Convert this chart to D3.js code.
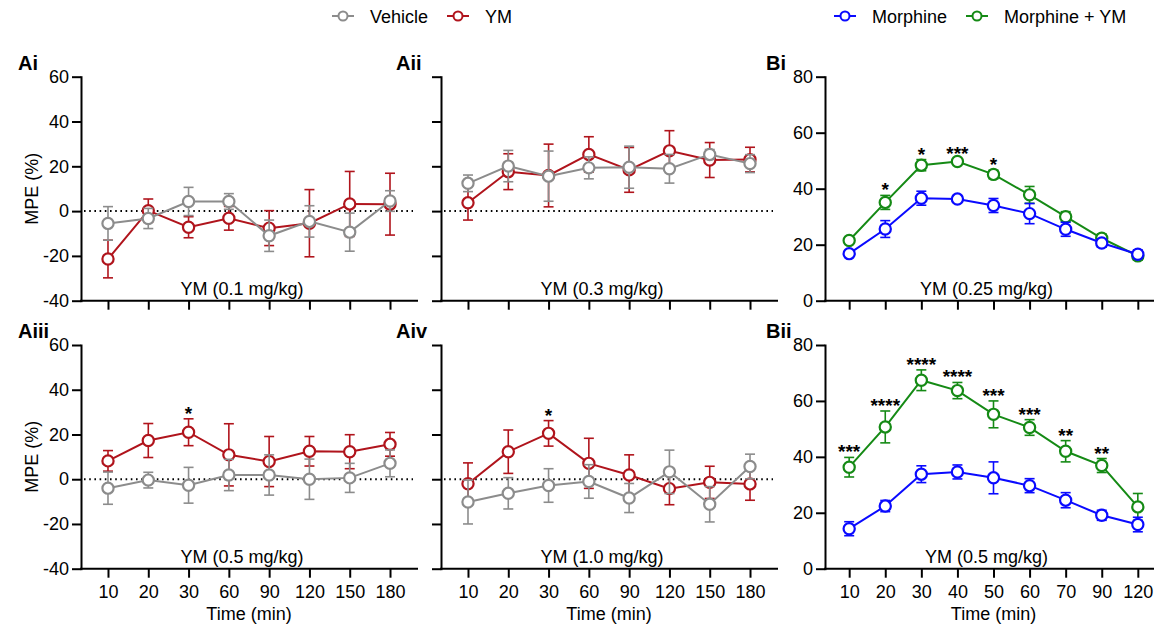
<!DOCTYPE html>
<html>
<head>
<meta charset="utf-8">
<script src="https://cdn.jsdelivr.net/npm/d3@7"></script>
<style>
  body { margin: 0; background: #fff; }
  svg { display: block; }
  text { font-family: "Liberation Sans", Arial, sans-serif; fill: #000; }
</style>
</head>
<body>
<svg id="chart" width="1154" height="628"></svg>
<script>
// time points (min)
const timeA = ["10", "20", "30", "60", "90", "120", "150", "180"];
const timeB = ["10", "20", "30", "40", "50", "60", "70", "90", "120"];

// Ai - YM 0.1 mg/kg
const aiVehicle = [-5.5, -3.3, 4.3, 4.3, -11.0, -4.6, -9.4, 4.5];
const aiVehicleSem = [7.5, 4.5, 6.3, 3.5, 7.0, 7.0, 8.5, 4.6];
const aiYM = [-21.4, 0.2, -7.2, -3.2, -7.6, -5.4, 3.2, 3.1];
const aiYMSem = [8.4, 5.2, 4.7, 5.3, 7.8, 15.0, 14.5, 13.8];

// Aii - YM 0.3 mg/kg
const aiiVehicle = [12.4, 20.1, 15.6, 19.3, 19.6, 18.9, 25.3, 21.2];
const aiiVehicleSem = [3.7, 7.0, 11.2, 4.9, 9.4, 6.4, 2.2, 4.0];
const aiiYM = [3.7, 17.6, 15.9, 25.3, 18.4, 26.9, 22.8, 23.0];
const aiiYMSem = [7.7, 8.0, 14.0, 7.9, 10.0, 9.0, 7.8, 5.5];

// Aiii - YM 0.5 mg/kg
const aiiiVehicle = [-4.0, -0.4, -2.7, 1.9, 1.9, 0.0, 0.6, 7.1];
const aiiiVehicleSem = [7.2, 3.5, 8.0, 7.0, 9.0, 9.0, 6.5, 6.0];
const aiiiYM = [8.2, 17.3, 21.0, 10.9, 7.9, 12.5, 12.3, 15.6];
const aiiiYMSem = [4.6, 7.6, 6.0, 13.9, 11.2, 6.6, 7.6, 5.3];
const aiiiStars = ["", "", "*", "", "", "", "", ""];

// Aiv - YM 1.0 mg/kg
const aivVehicle = [-10.2, -6.3, -2.8, -1.0, -8.4, 3.3, -11.2, 5.7];
const aivVehicleSem = [9.8, 7.0, 7.5, 7.5, 6.5, 9.7, 7.9, 5.5];
const aivYM = [-2.0, 12.3, 20.5, 7.1, 1.9, -4.2, -1.4, -2.1];
const aivYMSem = [9.3, 9.7, 5.7, 11.2, 9.0, 7.2, 7.2, 7.3];
const aivStars = ["", "", "*", "", "", "", "", ""];

// Bi - morphine +/- YM 0.25 mg/kg
const biMorphine = [16.8, 25.6, 36.6, 36.3, 34.0, 31.1, 25.5, 20.6, 16.6];
const biMorphineSem = [1.0, 3.0, 2.5, 1.0, 2.5, 3.6, 2.5, 1.5, 1.5];
const biMorphineYM = [21.5, 35.1, 48.4, 49.7, 45.1, 37.8, 30.0, 22.3, 16.0];
const biMorphineYMSem = [1.0, 2.5, 2.0, 1.0, 1.5, 3.0, 1.8, 1.5, 1.5];
const biStars = ["", "*", "*", "***", "*", "", "", "", ""];

// Bii - morphine +/- YM 0.5 mg/kg
const biiMorphine = [14.3, 22.4, 33.8, 34.6, 32.5, 29.7, 24.5, 19.1, 15.8];
const biiMorphineSem = [2.5, 2.0, 3.0, 2.5, 5.7, 2.5, 2.7, 1.8, 2.6];
const biiMorphineYM = [36.3, 50.7, 67.4, 63.7, 55.2, 50.5, 42.0, 36.9, 22.1];
const biiMorphineYMSem = [3.5, 5.7, 3.7, 2.9, 4.8, 2.8, 3.8, 2.5, 4.8];
const biiStars = ["***", "****", "****", "****", "***", "***", "**", "**", ""];

const yTicksA = [-40, -20, 0, 20, 40, 60];
const yTicksB = [0, 20, 40, 60, 80];

const GRAY = "#8c8c8c", RED = "#b0141c", BLUE = "#0a0aff", GREEN = "#158a15";

const svg = d3.select("#chart");

function styleAxis(sel) {
  sel.selectAll("path, line").attr("stroke", "#000").attr("stroke-width", 2);
  sel.select(".domain").attr("stroke-linecap", "square");
  sel.selectAll("text").style("font-size", "18px").attr("fill", "#000");
}

function drawPanel(p) {
  var g = svg.append("g").classed("panel", true);
  var x = d3.scalePoint().domain(p.times).range([p.left, p.right]).padding(0.67);
  var y = d3.scaleLinear().domain(p.yDomain).range([p.bottom, p.top]);

  // dotted zero line
  if (p.yDomain[0] < 0) {
    g.append("line")
      .attr("x1", p.left + 3).attr("x2", p.right - 4)
      .attr("y1", y(0)).attr("y2", y(0))
      .attr("stroke", "#000").attr("stroke-width", 2)
      .attr("stroke-dasharray", "1.6,3.6");
  }

  var yAxis = d3.axisLeft(y).tickValues(p.yTicks).tickSize(9).tickSizeOuter(0).tickPadding(3)
    .tickFormat(function (d) { return String(d); });
  if (!p.yLabels) yAxis.tickFormat("");
  g.append("g").attr("transform", "translate(" + p.left + ",0)").call(yAxis).call(styleAxis);

  var xAxis = d3.axisBottom(x).tickSize(9).tickSizeOuter(0).tickPadding(8);
  if (!p.xLabels) xAxis.tickFormat("");
  var xg = g.append("g").attr("transform", "translate(0," + p.bottom + ")").call(xAxis).call(styleAxis);
  // extend domain to the y axis
  xg.select(".domain").attr("d", "M" + p.left + ",0H" + p.right);

  // series
  p.series.forEach(function (s) {
    var pts = p.times.map(function (t, i) { return { t: t, v: s.values[i], e: s.sem[i] }; });
    var sg = g.append("g").classed("series", true);
    sg.append("path")
      .datum(pts)
      .attr("fill", "none").attr("stroke", s.color).attr("stroke-width", 2)
      .attr("d", d3.line().x(function (d) { return x(d.t); }).y(function (d) { return y(d.v); }));
    var eb = sg.selectAll(".err").data(pts).enter().append("g").classed("err", true)
      .attr("stroke", s.color).attr("stroke-width", 1.6);
    eb.append("line")
      .attr("x1", function (d) { return x(d.t); }).attr("x2", function (d) { return x(d.t); })
      .attr("y1", function (d) { return y(d.v - d.e); }).attr("y2", function (d) { return y(d.v + d.e); });
    [-1, 1].forEach(function (sign) {
      eb.append("line")
        .attr("x1", function (d) { return x(d.t) - 5; }).attr("x2", function (d) { return x(d.t) + 5; })
        .attr("y1", function (d) { return y(d.v + sign * d.e); }).attr("y2", function (d) { return y(d.v + sign * d.e); });
    });
    sg.selectAll("circle").data(pts).enter().append("circle")
      .attr("cx", function (d) { return x(d.t); }).attr("cy", function (d) { return y(d.v); })
      .attr("r", 5.6).attr("fill", "#fff").attr("stroke", s.color).attr("stroke-width", 2.2);
  });

  // significance stars
  if (p.stars) {
    var top = p.starSeries;
    g.selectAll(".star").data(p.times).enter().append("text")
      .attr("x", function (t) { return x(t); })
      .attr("y", function (t, i) { return y(top.values[i] + top.sem[i]) + 1; })
      .attr("text-anchor", "middle")
      .style("font-size", "19px").style("font-weight", "bold")
      .text(function (t, i) { return p.stars[i]; });
  }

  // subtitle
  g.append("text")
    .attr("x", (p.left + p.right) / 2 - 7).attr("y", p.bottom - 6)
    .attr("text-anchor", "middle").style("font-size", "18px")
    .text(p.subtitle);

  // panel label
  g.append("text")
    .attr("x", p.labelX).attr("y", p.top - 7)
    .style("font-size", "20px").style("font-weight", "bold")
    .text(p.label);

  if (p.yLabels && p.yTitle) {
    g.append("text")
      .attr("transform", "translate(38," + (p.top + p.bottom) / 2 + ") rotate(-90)")
      .attr("text-anchor", "middle").style("font-size", "18px")
      .text(p.yTitle);
  }
  if (p.xLabels) {
    g.append("text")
      .attr("x", (p.left + p.right) / 2).attr("y", p.bottom + 51)
      .attr("text-anchor", "middle").style("font-size", "18px")
      .text("Time (min)");
  }
}

var topRow = { top: 76.7, bottom: 300.7 };
var botRow = { top: 345, bottom: 568.7 };

function vehYM(v, vs, ym, ys) {
  return [
    { color: RED, values: ym, sem: ys },
    { color: GRAY, values: v, sem: vs }
  ];
}
function morph(m, ms, my, mys) {
  return [
    { color: GREEN, values: my, sem: mys },
    { color: BLUE, values: m, sem: ms }
  ];
}

var panels = [
  { label: "Ai", labelX: 18, left: 81, right: 417, row: topRow, times: timeA, yDomain: [-40, 60], yTicks: yTicksA,
    yLabels: true, yTitle: "MPE (%)", xLabels: false, subtitle: "YM (0.1 mg/kg)",
    series: vehYM(aiVehicle, aiVehicleSem, aiYM, aiYMSem) },
  { label: "Aii", labelX: 396, left: 441, right: 777, row: topRow, times: timeA, yDomain: [-40, 60], yTicks: yTicksA,
    yLabels: false, xLabels: false, subtitle: "YM (0.3 mg/kg)",
    series: vehYM(aiiVehicle, aiiVehicleSem, aiiYM, aiiYMSem) },
  { label: "Bi", labelX: 766, left: 825, right: 1162, row: topRow, times: timeB, yDomain: [0, 80], yTicks: yTicksB,
    yLabels: true, xLabels: false, subtitle: "YM (0.25 mg/kg)",
    series: morph(biMorphine, biMorphineSem, biMorphineYM, biMorphineYMSem), stars: biStars },
  { label: "Aiii", labelX: 18, left: 81, right: 417, row: botRow, times: timeA, yDomain: [-40, 60], yTicks: yTicksA,
    yLabels: true, yTitle: "MPE (%)", xLabels: true, subtitle: "YM (0.5 mg/kg)",
    series: vehYM(aiiiVehicle, aiiiVehicleSem, aiiiYM, aiiiYMSem), stars: aiiiStars },
  { label: "Aiv", labelX: 396, left: 441, right: 777, row: botRow, times: timeA, yDomain: [-40, 60], yTicks: yTicksA,
    yLabels: false, xLabels: true, subtitle: "YM (1.0 mg/kg)",
    series: vehYM(aivVehicle, aivVehicleSem, aivYM, aivYMSem), stars: aivStars },
  { label: "Bii", labelX: 766, left: 825, right: 1162, row: botRow, times: timeB, yDomain: [0, 80], yTicks: yTicksB,
    yLabels: true, xLabels: true, subtitle: "YM (0.5 mg/kg)",
    series: morph(biiMorphine, biiMorphineSem, biiMorphineYM, biiMorphineYMSem), stars: biiStars }
];

panels.forEach(function (p) {
  p.top = p.row.top;
  p.bottom = p.row.bottom;
  if (p.stars) p.starSeries = p.series[0];
  drawPanel(p);
});

// legends
var legendItems = [
  { name: "Vehicle", color: GRAY, x: 343 },
  { name: "YM", color: RED, x: 458 },
  { name: "Morphine", color: BLUE, x: 845 },
  { name: "Morphine + YM", color: GREEN, x: 977 }
];
var lg = svg.append("g").classed("legend", true);
var li = lg.selectAll("g").data(legendItems).enter().append("g")
  .attr("transform", function (d) { return "translate(" + d.x + ",16)"; });
li.append("line").attr("x1", -11).attr("x2", 11)
  .attr("stroke", function (d) { return d.color; }).attr("stroke-width", 2);
li.append("circle").attr("r", 4.5).attr("fill", "#fff")
  .attr("stroke", function (d) { return d.color; }).attr("stroke-width", 2);
li.append("text").attr("x", 27).attr("y", 6.5).style("font-size", "18px")
  .text(function (d) { return d.name; });
</script>
</body>
</html>
